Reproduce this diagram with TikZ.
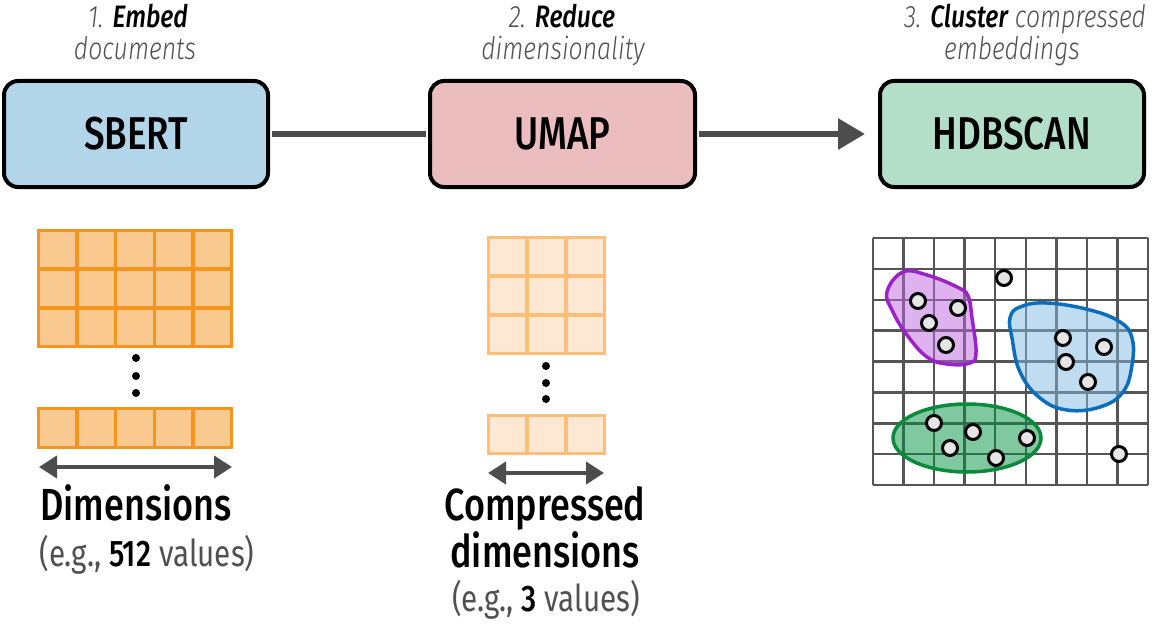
\documentclass[tikz,border=0pt]{standalone}
\usepackage{fontspec}
\setmainfont{Fira Sans}[FakeStretch=0.8]
\newfontfamily\medfont{Fira Sans}[UprightFont=* Medium, ItalicFont=* Medium Italic, FakeStretch=0.8]
\newfontfamily\litfont{Fira Sans}[UprightFont=* Light, ItalicFont=* Light Italic, FakeStretch=0.8]
\usetikzlibrary{arrows.meta}
\definecolor{sbertc}{HTML}{B3D5EA}
\definecolor{umapc}{HTML}{ECBDBF}
\definecolor{hdbc}{HTML}{B3DFC8}
\definecolor{linec}{HTML}{4D4D4D}
\definecolor{txtgray}{HTML}{505050}
\definecolor{orD}{HTML}{F7941D}
\definecolor{orDf}{HTML}{F9C98F}
\definecolor{orL}{HTML}{FDBF78}
\definecolor{orLf}{HTML}{FDE8D3}
\definecolor{gridc}{HTML}{555555}
\definecolor{ptfill}{HTML}{E6E6E6}
\definecolor{purS}{HTML}{9B22C8}
\definecolor{purF}{HTML}{BB66DD}
\definecolor{bluS}{HTML}{0A6EBD}
\definecolor{bluF}{HTML}{82BAE1}
\definecolor{grnS}{HTML}{0B8A3B}
\definecolor{grnF}{HTML}{019141}
\tikzset{
  box/.style={draw=black, line width=4pt, rounded corners=14pt, minimum width=264pt, minimum height=106pt, font=\medfont\fontsize{46}{46}\selectfont},
  conn/.style={draw=linec, line width=6pt},
  lab/.style={font=\litfont\fontsize{31}{31}\selectfont\itshape, text=txtgray, anchor=base, inner sep=0pt},
  big/.style={font=\medfont\fontsize{45}{40}\selectfont, anchor=base, inner sep=0pt, align=center},
  sub/.style={font=\fontsize{37}{37}\selectfont, text=txtgray, anchor=base, inner sep=0pt},
  cellD/.style={draw=orD, fill=orDf, line width=3.5pt},
  cellL/.style={draw=orL, fill=orLf, line width=3.5pt},
  dotn/.style={circle, fill=black, minimum size=8pt, inner sep=0pt},
  dim/.style={draw=linec, line width=4pt, {Triangle[length=18pt,width=22pt]}-{Triangle[length=18pt,width=22pt]}},
  gl/.style={draw=gridc, line width=2.5pt},
  pt/.style={circle, draw=black, line width=3pt, fill=ptfill, minimum size=15pt, inner sep=0pt},
  blob/.style={line width=3.5pt, fill opacity=0.5, draw opacity=1}
}
\begin{document}
\begin{tikzpicture}[x=1pt,y=-1pt]
\useasboundingbox (0,0) rectangle (1152,626);
% boxes
\node[box, fill=sbertc] (sbert) at (136,134) {SBERT};
\node[box, fill=umapc, minimum width=265pt] (umap) at (562.5,134) {UMAP};
\node[box, fill=hdbc] (hdb) at (1012,134) {HDBSCAN};
\draw[conn, shorten <=2pt, shorten >=2pt] (sbert) -- (umap);
\draw[conn, -{Triangle[length=27pt,width=30pt]}, shorten <=2pt, shorten >=13pt] (umap) -- (hdb);
% top labels
\node[lab] (l1a) at (138,28) {1. \textcolor{black}{\medfont\itshape Embed}};
\node[lab] (l1b) at (135,60) {documents};
\node[lab] (l2a) at (562,28) {2. \textcolor{black}{\medfont\itshape Reduce}};
\node[lab] (l2b) at (563,60) {dimensionality};
\node[lab] (l3a) at (1025,28) {3. \textcolor{black}{\medfont\itshape Cluster} compressed};
\node[lab] (l3b) at (1012,60) {embeddings};
% SBERT grid
\foreach \c in {0,...,4}{\foreach \r in {0,1,2}{
  \draw[cellD] ({38.5+\c*38.6},{230.5+\r*38.67}) rectangle ++(38.6,38.67);}}
\foreach \c in {0,...,4}{\draw[cellD] ({38.5+\c*38.6},408.5) rectangle ++(38.6,39);}
\node[dotn] (sd1) at (136,358) {};
\node[dotn] (sd2) at (136,376) {};
\node[dotn] (sd3) at (136,393) {};
\coordinate (a1l) at (39,467);
\coordinate (a1r) at (232,467);
\draw[dim] (a1l) -- (a1r);
\node[big] (d1) at (136,520) {Dimensions};
\node[sub] (d2) at (147,566) {(e.g., \textcolor{black}{\medfont 512} values)};
% UMAP grid
\foreach \c in {0,1,2}{\foreach \r in {0,1,2}{
  \draw[cellL] ({488.5+\c*38.67},{237.5+\r*38.67}) rectangle ++(38.67,38.67);}}
\foreach \c in {0,1,2}{\draw[cellL] ({488.5+\c*38.67},415.5) rectangle ++(38.67,38);}
\node[dotn] (ud1) at (546,366) {};
\node[dotn] (ud2) at (546,383) {};
\node[dotn] (ud3) at (546,399) {};
\coordinate (a2l) at (488,473);
\coordinate (a2r) at (604,473);
\draw[dim] (a2l) -- (a2r);
\node[big] (c1) at (545,567) {Compressed\\dimensions};
\node[sub] (c3) at (546,611) {(e.g., \textcolor{black}{\medfont 3} values)};
% HDBSCAN grid
\foreach \i in {0,...,9}{\draw[gl] ({873+\i*30.56},238) -- ({873+\i*30.56},485);}
\foreach \j in {0,...,8}{\draw[gl] (873,{238+\j*30.875}) -- (1148,{238+\j*30.875});}
% clusters
\draw[blob, draw=purS, fill=purF] plot[smooth cycle, tension=0.7] coordinates {
 (887,292) (903,272) (927,275) (957,287) (968,296) (972,318) (976,352) (970,363) (947,364) (927,357) (907,335) (893,312)};
\draw[blob, draw=bluS, fill=bluF] plot[smooth cycle, tension=0.7] coordinates {
 (1010,318) (1020,307) (1047,303) (1090,310) (1120,322) (1132,338) (1132,365) (1123,392) (1100,407) (1067,410) (1040,398) (1020,372) (1012,338)};
\draw[blob, draw=grnS, fill=grnF] (967,438) ellipse [x radius=74, y radius=34];
% points
\node[pt] (p1) at (1004,278) {};
\node[pt] (p2) at (1119,454) {};
\node[pt] (p3) at (918,301) {};
\node[pt] (p4) at (958,308) {};
\node[pt] (p5) at (929,323) {};
\node[pt] (p6) at (946,345) {};
\node[pt] (p7) at (1063,338) {};
\node[pt] (p8) at (1104,347) {};
\node[pt] (p9) at (1066,362) {};
\node[pt] (p10) at (1088,382) {};
\node[pt] (p11) at (934,423) {};
\node[pt] (p12) at (973,432) {};
\node[pt] (p13) at (950,448) {};
\node[pt] (p14) at (996,458) {};
\node[pt] (p15) at (1027,438) {};
\end{tikzpicture}
\end{document}
